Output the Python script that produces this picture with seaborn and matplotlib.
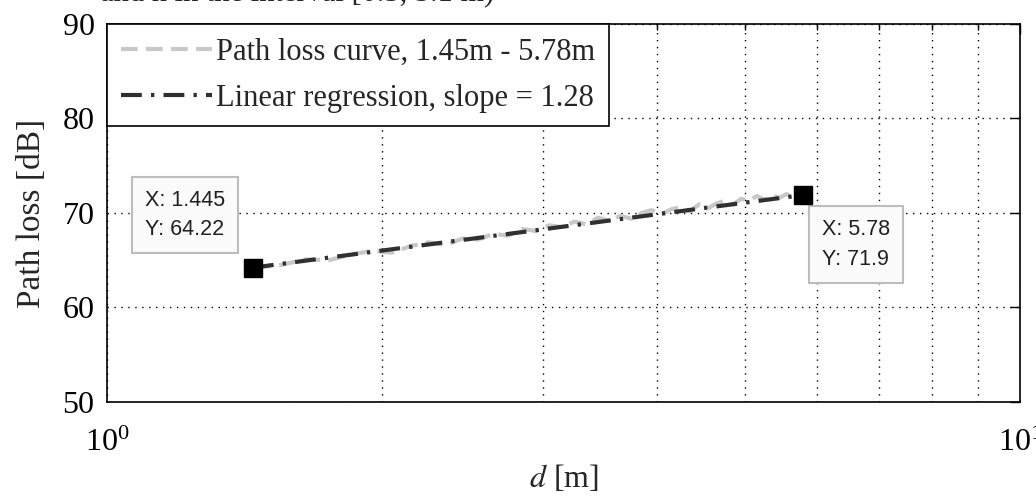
import numpy as np
import pandas as pd
import matplotlib
matplotlib.use("Agg")
import matplotlib.pyplot as plt
import seaborn as sns

# ---- data ----
curve_d = [1.45, 1.55, 1.65, 1.75, 1.85, 1.95, 2.05, 2.15, 2.25, 2.35, 2.45, 2.55,
           2.65, 2.75, 2.85, 2.95, 3.05, 3.15, 3.25, 3.35, 3.45, 3.55, 3.65, 3.75,
           3.85, 3.95, 4.05, 4.15, 4.25, 4.35, 4.45, 4.55, 4.65, 4.75, 4.85, 4.95,
           5.05, 5.15, 5.25, 5.35, 5.45, 5.55, 5.65, 5.78]
curve_loss = [64.2, 64.5, 65.1, 65.0, 65.6, 66.0, 65.8, 66.5, 66.9, 66.6, 67.3, 67.2,
              67.8, 67.6, 68.3, 68.1, 68.7, 68.5, 69.1, 68.8, 69.5, 69.2, 69.7, 69.4,
              70.0, 70.3, 69.9, 70.4, 70.6, 70.2, 70.9, 70.5, 71.0, 71.3, 70.9, 71.5,
              71.3, 71.8, 71.4, 71.9, 71.6, 72.0, 71.7, 71.9]
reg_d = [1.445, 5.78]
reg_loss = [64.22, 71.9]
tip_labels = ["X: 1.445\nY: 64.22", "X: 5.78\nY: 71.9"]
legend_labels = ["Path loss curve, 1.45m - 5.78m", "Linear regression, slope = 1.28"]
title_text = "and n in the interval [0.5, 5.1 m)"

sns.set_theme(style="white")
plt.rcParams['font.family'] = ['Liberation Serif', 'DejaVu Serif']
plt.rcParams['mathtext.fontset'] = 'stix'

fig = plt.figure(figsize=(10.36, 5.01), dpi=100)
ax = fig.add_axes([107/1036, 1-402/501, (1020-107)/1036, (402-24)/501])

df_c = pd.DataFrame({"d": curve_d, "loss": curve_loss})
df_r = pd.DataFrame({"d": reg_d, "loss": reg_loss})

sns.lineplot(data=df_c, x="d", y="loss", ax=ax, color="#c8c8c8", lw=3,
             linestyle=(0, (4, 2)), label=legend_labels[0], sort=False)
sns.lineplot(data=df_r, x="d", y="loss", ax=ax, color="#303030", lw=3,
             linestyle=(0, (5, 2.2, 0.8, 2.2)), label=legend_labels[1], sort=False)
ax.plot(reg_d, reg_loss, linestyle='none', marker='s', ms=12.5, color='black', zorder=5)

ax.set_xscale('log')
ax.set_xlim(1, 10)
ax.set_ylim(50, 90)
ax.set_yticks([50, 60, 70, 80, 90])
ax.grid(True, which='both', axis='x', linestyle=(0, (1, 4)), color='black', lw=1)
ax.grid(True, which='major', axis='y', linestyle=(0, (1, 4)), color='black', lw=1)
ax.xaxis.set_minor_formatter(matplotlib.ticker.NullFormatter())
ax.tick_params(which='both', direction='in', top=True, right=True, colors='black',
               labelsize=23)
ax.tick_params(which='major', length=7, width=1)
ax.tick_params(which='minor', length=4, width=1)
ax.tick_params(axis='x', pad=19)
ax.tick_params(axis='y', pad=9)
for s in ax.spines.values():
    s.set_color('black')
    s.set_linewidth(1.2)

ax.set_xlabel(r"$d$ [m]", fontsize=23, labelpad=4)
ax.set_ylabel("Path loss [dB]", fontsize=24, labelpad=11)

leg = ax.legend(loc='upper left', borderaxespad=0, fancybox=False, framealpha=1,
                edgecolor='black', fontsize=22, handlelength=3.0, handletextpad=0.12,
                borderpad=0.45, labelspacing=0.55)
leg.get_frame().set_linewidth(1.2)

tip_kw = dict(textcoords='offset pixels', fontsize=15.5, family='Liberation Sans',
              color='#202020', ha='left', va='top', linespacing=1.55,
              bbox=dict(boxstyle='square,pad=0.6', fc='#fbfbfb', ec='#bdbdbd', lw=1.5))
ax.annotate(tip_labels[0], xy=(reg_d[0], reg_loss[0]), xytext=(-108, 78), **tip_kw)
ax.annotate(tip_labels[1], xy=(reg_d[1], reg_loss[1]), xytext=(19, -24), **tip_kw)

fig.text(100/1036, 1 + 6/501, title_text, fontsize=22, ha='left', va='center')

fig.savefig("out.png", dpi=100)
